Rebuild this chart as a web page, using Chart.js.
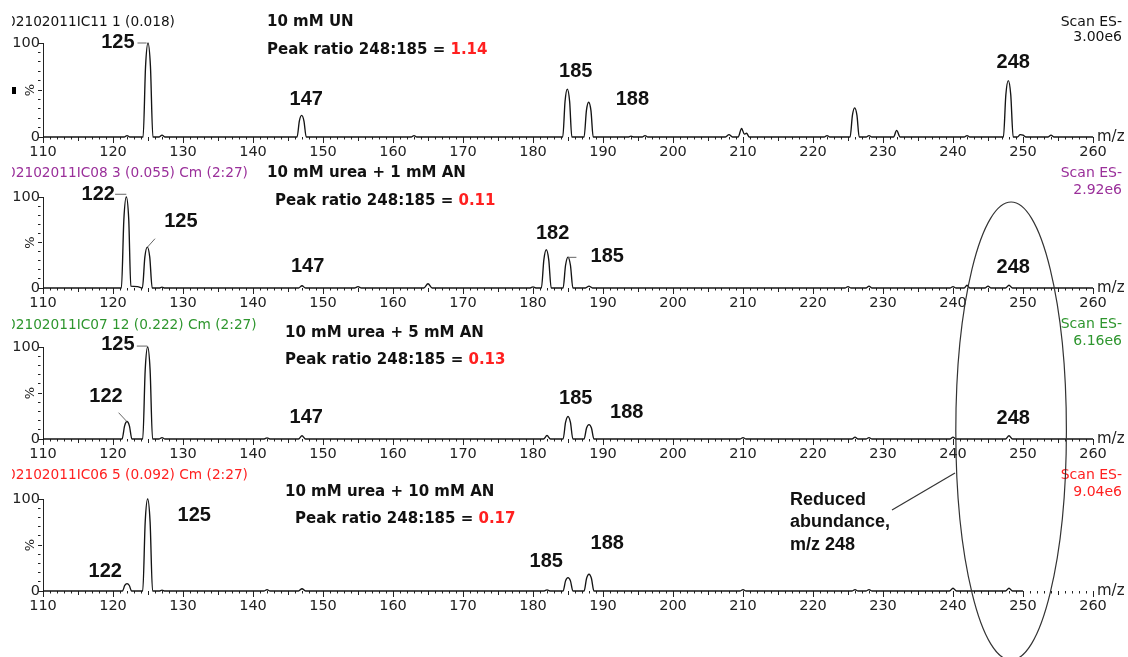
<!DOCTYPE html>
<html>
<head>
<meta charset="utf-8">
<title>ES- scans, urea / AN</title>
<script src="https://cdn.jsdelivr.net/npm/chart.js@4.4.1/dist/chart.umd.min.js"></script>
<style>
  html, body { margin: 0; padding: 0; background: #fff; }
  #page { position: relative; width: 1128px; height: 657px; overflow: hidden; }
  #page canvas { position: absolute; left: 0; }
  #overlay { top: 0; pointer-events: none; }
</style>
</head>
<body>
<div id="page"></div>
<script>
// ---- data ----
const conditions = ['10 mM UN', '10 mM urea + 1 mM AN', '10 mM urea + 5 mM AN', '10 mM urea + 10 mM AN'];
const sampleIds = ['02102011IC11 1 (0.018)', '02102011IC08 3 (0.055) Cm (2:27)',
                   '02102011IC07 12 (0.222) Cm (2:27)', '02102011IC06 5 (0.092) Cm (2:27)'];
const scanMax = ['3.00e6', '2.92e6', '6.16e6', '9.04e6'];
const peakRatios = ['1.14', '0.11', '0.13', '0.17'];

// [m/z, relative abundance %]
const spectrumUN = [
  [110,0],[121.6,0],[122,1.5],[122.4,0],
  [124.3,0],[124.65,75],[125,100],[125.35,75],[125.7,0],[126.6,0],[127,2],[127.4,0],
  [146.3,0],[146.62,17],[146.95,23],[147.28,17],[147.6,0],[162.6,0],[163,1.5],[163.4,0],
  [184.25,0],[184.58,38],[184.9,51],[185.23,38],[185.55,0],
  [187.3,0],[187.63,28],[187.95,37],[188.28,28],[188.6,0],
  [193.6,0],[194,1],[194.4,0],[195.6,0],[196,1.5],[196.4,0],
  [207.5,0],[208,2.5],[208.5,0],[209.3,0],[209.8,9],[210.2,3],[210.5,4],[210.9,0],
  [221.6,0],[222,1.5],[222.4,0],
  [225.3,0],[225.63,23],[225.95,31],[226.28,23],[226.6,0],[227.6,0],[228,1.5],[228.4,0],
  [231.5,0],[231.95,7],[232.45,0],[241.6,0],[242,1.5],[242.4,0],
  [247.2,0],[247.55,45],[247.9,60],[248.25,45],[248.6,0],
  [249.2,0],[249.6,2.5],[250,2],[250.4,0],[253.6,0],[254,2],[254.4,0],[260,0]
];
const spectrumAN1 = [
  [110,0],[121.2,0],[121.55,75],[121.9,100],[122.25,75],[122.55,2],[123.5,1.5],[124.2,0],
  [124.55,34],[124.9,45],[125.25,34],[125.6,0],
  [126.6,0],[127,1],[127.4,0],[146.5,0],[147,2.5],[147.5,0],[154.5,0],[155,1.5],[155.5,0],
  [164.4,0],[165,4.7],[165.6,0],[179.6,0],[180,1.2],[180.4,0],
  [181.2,0],[181.55,31],[181.9,42],[182.25,31],[182.6,0],
  [184.3,0],[184.65,25],[185,34],[185.35,25],[185.7,0],[187.5,0],[188,2],[188.5,0],
  [224.6,0],[225,1.5],[225.4,0],[227.6,0],[228,2],[228.4,0],[239.6,0],[240,1.5],[240.4,0],
  [241.6,0],[242,3],[242.4,0],[244.6,0],[245,2],[245.4,0],[247.5,0],[248,3],[248.5,0],[260,0]
];
const spectrumAN5 = [
  [110,0],[121.3,0],[121.65,14],[122,19],[122.35,14],[122.7,0],
  [124.25,0],[124.6,75],[124.95,100],[125.3,75],[125.65,0],[126.6,0],[127,1.5],[127.4,0],
  [141.6,0],[142,1.2],[142.4,0],[146.5,0],[147,3.5],[147.5,0],[181.5,0],[182,3.8],[182.5,0],
  [184.3,0],[184.65,18],[185,24.5],[185.35,18],[185.7,0],
  [187.3,0],[187.65,12],[188,15.7],[188.35,12],[188.7,0],[209.6,0],[210,1.5],[210.4,0],
  [225.6,0],[226,2],[226.4,0],[227.6,0],[228,1.5],[228.4,0],[239.6,0],[240,2],[240.4,0],
  [247.5,0],[248,3.5],[248.5,0],[260,0]
];
const spectrumAN10 = [
  [110,0],[121.35,0],[121.68,6],[122,8],[122.33,6],[122.65,0],
  [124.25,0],[124.6,75],[124.95,100],[125.3,75],[125.65,0],[126.6,0],[127,1],[127.4,0],
  [141.6,0],[142,1.5],[142.4,0],[146.5,0],[147,2.5],[147.5,0],[181.6,0],[182,1.2],[182.4,0],
  [184.3,0],[184.65,11],[185,14.6],[185.35,11],[185.7,0],
  [187.3,0],[187.65,13.6],[188,18.2],[188.35,13.6],[188.7,0],[209.6,0],[210,1.5],[210.4,0],
  [225.6,0],[226,1.5],[226.4,0],[227.6,0],[228,1.5],[228.4,0],[239.5,0],[240,3],[240.5,0],
  [247.5,0],[248,3],[248.5,0],[250,0]
];
const spectra = [spectrumUN, spectrumAN1, spectrumAN5, spectrumAN10];

// ---- layout ----
const panelTop = [0, 159, 310, 461];   // page y of each canvas
const plotTop = [43, 197, 347, 499];   // page y of 100 %
const plotZero = [137, 288, 439, 591]; // page y of 0 %
const xAxisH = 22;
const idColors = ['#111', '#9a2f9a', '#2e962e', '#ff2020'];
const red = '#ff2020';

const headers = [
  { id: 22, cond: [267, 22], ratio: [267, 50], scan: [22, 37] },
  { id: 14, cond: [267, 14], ratio: [275, 42.5], scan: [14, 31] },
  { id: 15, cond: [285, 22.7], ratio: [285, 50], scan: [14, 31.7] },
  { id: 14, cond: [285, 30.7], ratio: [295, 58.3], scan: [14, 31.3] }
];
// peak labels anchored in (m/z, %), optional leader line
const notes = [
  [ { t: '125', mz: 120.7, p: 100.5, lead: [123.5, 100, 124.8, 100] },
    { t: '147', mz: 147.6, p: 40.4 }, { t: '185', mz: 186.1, p: 69.5 },
    { t: '188', mz: 194.2, p: 40.1 }, { t: '248', mz: 248.6, p: 79.5 } ],
  [ { t: '122', mz: 117.9, p: 103.3, lead: [120.3, 103, 121.9, 103] },
    { t: '125', mz: 129.7, p: 72.9, lead: [124.9, 44.7, 126.0, 54.2] },
    { t: '147', mz: 147.8, p: 23.4 }, { t: '182', mz: 182.8, p: 60.1 },
    { t: '185', mz: 190.6, p: 34.4, lead: [185, 33.7, 186.2, 33.7] },
    { t: '248', mz: 248.6, p: 22.7 } ],
  [ { t: '125', mz: 120.7, p: 102.2, lead: [123.4, 101, 124.9, 101] },
    { t: '122', mz: 119.0, p: 46.7, lead: [120.8, 28.6, 122.0, 18.8] },
    { t: '147', mz: 147.6, p: 23.6 }, { t: '185', mz: 186.1, p: 44.2 },
    { t: '188', mz: 193.4, p: 28.6 }, { t: '248', mz: 248.6, p: 22.5 } ],
  [ { t: '125', mz: 131.6, p: 82.6 }, { t: '122', mz: 118.9, p: 21.7 },
    { t: '185', mz: 181.9, p: 31.8 }, { t: '188', mz: 190.6, p: 51.8 } ]
];

function notesPlugin(i) {
  return {
    id: 'notes' + i,
    afterDraw(chart) {
      const { ctx } = chart;
      const x = chart.scales.x, y = chart.scales.y;
      const h = headers[i];
      ctx.save();
      ctx.textBaseline = 'middle';

      // sample id (left edge cut off as in the scan)
      ctx.save();
      ctx.beginPath();
      ctx.rect(12, 0, 400, h.id + 12);
      ctx.clip();
      ctx.font = '13.7px "DejaVu Sans"';
      ctx.fillStyle = idColors[i];
      ctx.textAlign = 'left';
      ctx.fillText(sampleIds[i], 7, h.id);
      ctx.restore();

      // scan type + base peak intensity
      ctx.font = '14px "DejaVu Sans"';
      ctx.fillStyle = idColors[i];
      ctx.textAlign = 'right';
      ctx.fillText('Scan ES-', 1122, h.scan[0]);
      ctx.fillText(scanMax[i], 1122, h.scan[1]);

      // condition and ratio
      ctx.textAlign = 'left';
      ctx.font = 'bold 15px "DejaVu Sans"';
      ctx.fillStyle = '#111';
      ctx.fillText(conditions[i], h.cond[0], h.cond[1]);
      const lead = 'Peak ratio 248:185 = ';
      ctx.fillText(lead, h.ratio[0], h.ratio[1]);
      ctx.fillStyle = red;
      ctx.fillText(peakRatios[i], h.ratio[0] + ctx.measureText(lead).width, h.ratio[1]);

      // % axis title
      ctx.save();
      ctx.translate(31, y.getPixelForValue(50));
      ctx.rotate(-Math.PI / 2);
      ctx.textAlign = 'center';
      ctx.font = '13px "DejaVu Sans"';
      ctx.fillStyle = '#222';
      ctx.fillText('%', 0, 0);
      ctx.restore();
      if (i === 0) { ctx.fillStyle = '#000'; ctx.fillRect(12, 87, 4, 7); }

      // m/z
      ctx.fillStyle = '#222';
      ctx.font = '15px "DejaVu Sans"';
      ctx.fillText('m/z', x.right + 4, y.getPixelForValue(0));

      // peak labels
      ctx.font = 'bold 20px "Liberation Sans"';
      ctx.textAlign = 'center';
      ctx.strokeStyle = '#666';
      ctx.lineWidth = 1;
      notes[i].forEach(n => {
        ctx.fillStyle = '#111';
        ctx.fillText(n.t, x.getPixelForValue(n.mz), y.getPixelForValue(n.p));
        if (n.lead) {
          ctx.beginPath();
          ctx.moveTo(x.getPixelForValue(n.lead[0]), y.getPixelForValue(n.lead[1]));
          ctx.lineTo(x.getPixelForValue(n.lead[2]), y.getPixelForValue(n.lead[3]));
          ctx.stroke();
        }
      });
      ctx.restore();
    }
  };
}

function tickDash(ctx, major, mid) {
  const v = Math.round(ctx.tick ? ctx.tick.value : 0);
  if (v % major === 0) return [];
  if (v % mid === 0) return [4, 20];
  return [2.5, 20];
}

const page = document.getElementById('page');
const charts = [];
for (let i = 0; i < 4; i++) {
  const c = document.createElement('canvas');
  c.width = 1128;
  c.height = plotZero[i] - panelTop[i] + xAxisH;
  c.style.top = panelTop[i] + 'px';
  page.appendChild(c);

  charts.push(new Chart(c, {
    type: 'line',
    data: {
      datasets: [{
        data: spectra[i].map(([mz, p]) => ({ x: mz, y: p })),
        borderColor: '#141414',
        borderWidth: 1.35,
        pointRadius: 0,
        cubicInterpolationMode: 'monotone',
        fill: false,
        clip: false
      }]
    },
    options: {
      responsive: false,
      animation: false,
      events: [],
      devicePixelRatio: 1,
      layout: { padding: { top: plotTop[i] - panelTop[i], right: 35, left: 0, bottom: 0 } },
      plugins: { legend: { display: false }, tooltip: { enabled: false } },
      scales: {
        x: {
          type: 'linear', min: 110, max: 260,
          afterFit: s => { s.height = xAxisH; },
          border: { display: false },
          grid: { drawOnChartArea: false, tickLength: 6, tickColor: '#222',
                  tickBorderDash: ctx => tickDash(ctx, 10, 5) },
          ticks: { stepSize: 1, autoSkip: false, maxRotation: 0, minRotation: 0, padding: 1,
                   color: '#222', font: { family: 'DejaVu Sans', size: 14.5 },
                   callback: v => (Math.round(v) % 10 === 0 ? String(Math.round(v)) : '') }
        },
        y: {
          min: 0, max: 100,
          afterFit: s => { s.width = 43; },
          border: { display: true, color: '#222', width: 1 },
          grid: { drawOnChartArea: false, tickLength: 5, tickColor: '#222',
                  tickBorderDash: ctx => tickDash(ctx, 100, 50) },
          ticks: { stepSize: 10, autoSkip: false, padding: -2, color: '#222',
                   font: { family: 'DejaVu Sans', size: 14.5 },
                   callback: v => (v === 0 || v === 100 ? String(v) : '') }
        }
      }
    },
    plugins: [notesPlugin(i)]
  }));
}

// ---- overlay: ellipse around m/z 248 and callout ----
const ov = document.createElement('canvas');
ov.id = 'overlay';
ov.width = 1128; ov.height = 657;
page.appendChild(ov);
const octx = ov.getContext('2d');
const xs = charts[0].scales.x;
const ellCx = xs.getPixelForValue(248.3);
const ellRx = xs.getPixelForValue(256.2) - ellCx;
const ellTop = panelTop[1] + charts[1].scales.y.getPixelForValue(94.5);
const ellBottom = panelTop[3] + charts[3].scales.y.getPixelForValue(-75);
octx.strokeStyle = '#333';
octx.lineWidth = 1.2;
octx.beginPath();
octx.ellipse(ellCx, (ellTop + ellBottom) / 2, ellRx, (ellBottom - ellTop) / 2, 0, 0, Math.PI * 2);
octx.stroke();
octx.beginPath();
octx.moveTo(892, 510);
octx.lineTo(955, 473);
octx.stroke();
octx.fillStyle = '#111';
octx.font = 'bold 18px "Liberation Sans"';
octx.textBaseline = 'middle';
['Reduced', 'abundance,', 'm/z 248'].forEach((s, k) => octx.fillText(s, 790, 500 + k * 22.5));
</script>
</body>
</html>
